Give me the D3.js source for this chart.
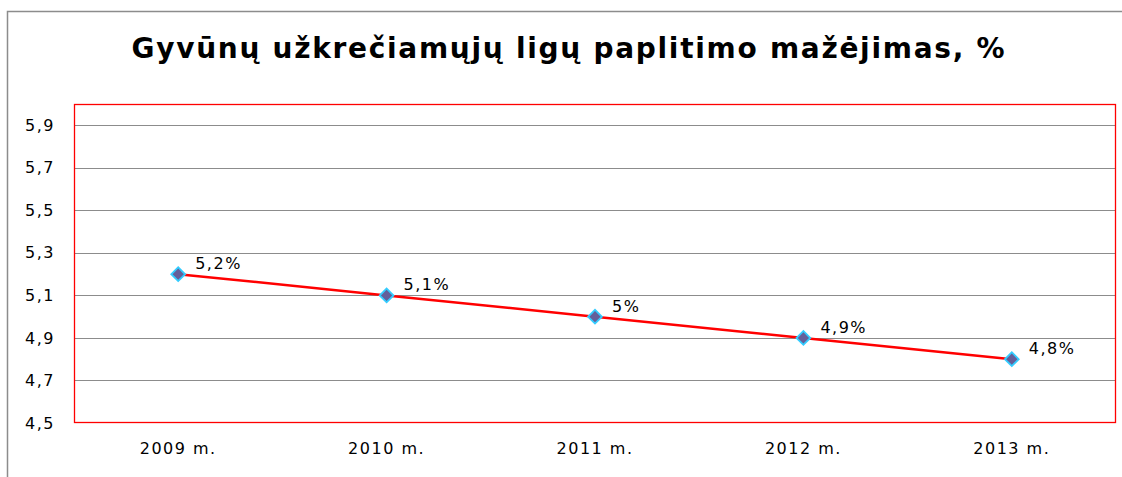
<!DOCTYPE html>
<html>
<head>
<meta charset="utf-8">
<script src="https://cdn.jsdelivr.net/npm/d3@7"></script>
<style>
  body { margin: 0; background: #fff; }
  text { font-family: "DejaVu Sans", Verdana, sans-serif; }
</style>
</head>
<body>
<svg id="chart" width="1122" height="477"></svg>
<script>
var title = 'Gyvūnų užkrečiamųjų ligų paplitimo mažėjimas, %';
var years = ['2009 m.', '2010 m.', '2011 m.', '2012 m.', '2013 m.'];
var values = [5.2, 5.1, 5.0, 4.9, 4.8];
var valueLabels = ['5,2%', '5,1%', '5%', '4,9%', '4,8%'];
var yTicks = [4.5, 4.7, 4.9, 5.1, 5.3, 5.5, 5.7, 5.9];

var svg = d3.select('#chart');

// outer chart border (only top and left visible)
svg.append('path')
  .attr('d', 'M7.5,477 V11.5 H1122')
  .attr('fill', 'none')
  .attr('stroke', '#8c8c8c')
  .attr('stroke-width', 1.5);

svg.append('text')
  .attr('x', 568)
  .attr('y', 58)
  .attr('text-anchor', 'middle')
  .attr('font-size', 28)
  .attr('font-weight', 'bold')
  .attr('textLength', 873)
  .attr('lengthAdjust', 'spacing')
  .attr('fill', '#000')
  .text(title);

var margin = { left: 74, top: 104, right: 1116, bottom: 423 };

var x = d3.scaleBand().domain(years).range([margin.left, margin.right]);
var y = d3.scaleLinear().domain([4.5, 6.0]).range([margin.bottom, margin.top]);

// gridlines
svg.append('g')
  .selectAll('line')
  .data(yTicks.slice(1))
  .enter()
  .append('line')
  .attr('x1', margin.left)
  .attr('x2', margin.right)
  .attr('y1', d => Math.round(y(d)) + 0.5)
  .attr('y2', d => Math.round(y(d)) + 0.5)
  .attr('stroke', '#8c8c8c')
  .attr('stroke-width', 1);

// y axis labels
var yAxis = svg.append('g')
  .attr('transform', `translate(${margin.left},0)`)
  .call(d3.axisLeft(y).tickValues(yTicks).tickSize(0).tickPadding(19)
    .tickFormat(d => d3.format('.1f')(d).replace('.', ',')));
yAxis.select('.domain').remove();
yAxis.attr('font-size', 16).attr('font-family', '"DejaVu Sans", Verdana, sans-serif');
yAxis.selectAll('text')
  .attr('fill', '#000')
  .style('letter-spacing', '1.5px');

// x axis labels
var xAxis = svg.append('g')
  .attr('transform', `translate(0,${margin.bottom})`)
  .call(d3.axisBottom(x).tickSize(0).tickPadding(20));
xAxis.select('.domain').remove();
xAxis.attr('font-size', 16).attr('font-family', '"DejaVu Sans", Verdana, sans-serif');
xAxis.selectAll('text')
  .attr('fill', '#000')
  .style('letter-spacing', '1.5px');

// plot area border
svg.append('rect')
  .attr('x', margin.left + 0.5)
  .attr('y', margin.top + 0.5)
  .attr('width', margin.right - margin.left - 1)
  .attr('height', margin.bottom - margin.top - 1)
  .attr('fill', 'none')
  .attr('stroke', '#ff0000')
  .attr('stroke-width', 1.3);

var cx = d => x(d) + x.bandwidth() / 2;

var line = d3.line()
  .x((d, i) => cx(years[i]))
  .y(d => y(d));

svg.append('path')
  .datum(values)
  .attr('d', line)
  .attr('fill', 'none')
  .attr('stroke', '#ff0000')
  .attr('stroke-width', 2.5);

svg.append('g')
  .selectAll('path')
  .data(values)
  .enter()
  .append('path')
  .attr('d', d3.symbol().type(d3.symbolSquare).size(95))
  .attr('transform', (d, i) => `translate(${cx(years[i])},${y(d)}) rotate(45)`)
  .attr('fill', '#645f9a')
  .attr('stroke', '#33ccff')
  .attr('stroke-width', 1.8);

svg.append('g')
  .selectAll('text')
  .data(values)
  .enter()
  .append('text')
  .attr('x', (d, i) => cx(years[i]) + 17)
  .attr('y', d => y(d) - 5)
  .attr('font-size', 16)
  .style('letter-spacing', '1.5px')
  .attr('fill', '#000')
  .text((d, i) => valueLabels[i]);
</script>
</body>
</html>
